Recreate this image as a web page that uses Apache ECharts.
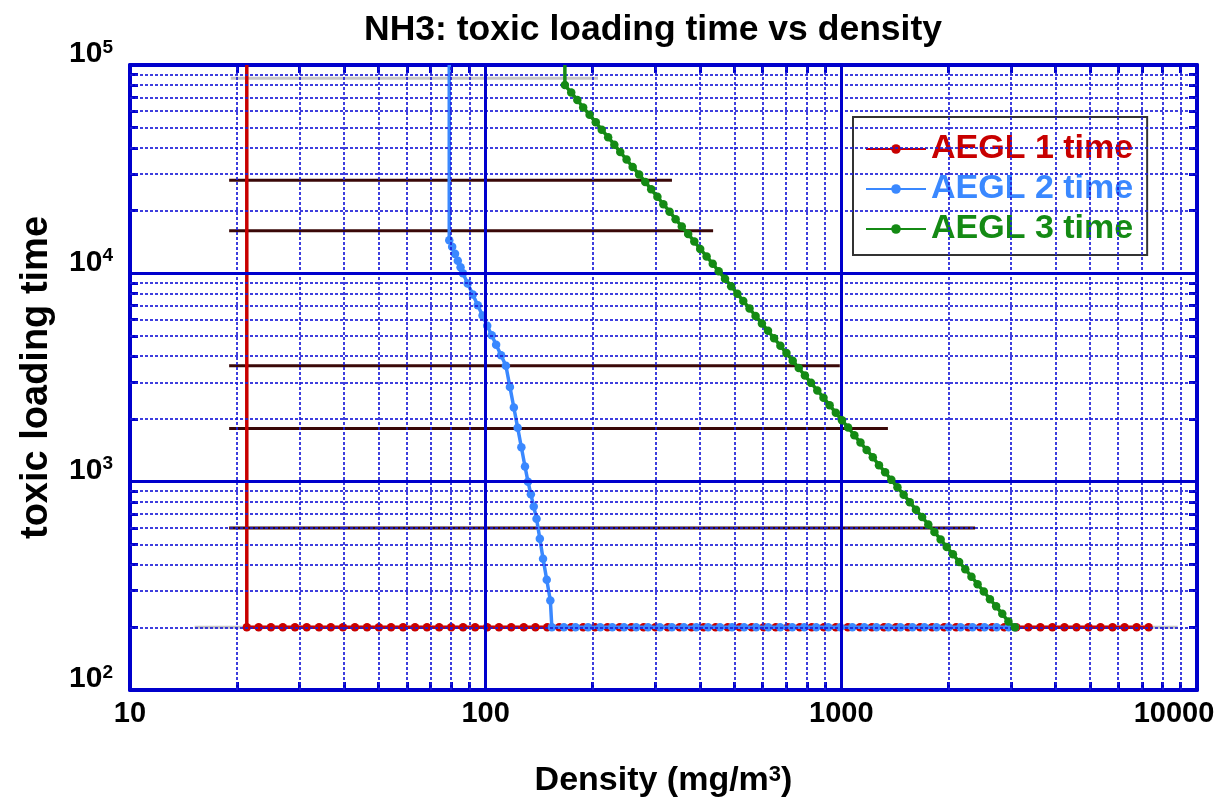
<!DOCTYPE html>
<html><head><meta charset="utf-8">
<script src="https://cdn.jsdelivr.net/npm/echarts@6/dist/echarts.min.js"></script>
<style>html,body{margin:0;padding:0;background:#fff}#c{width:1221px;height:799px}</style>
</head><body><div id="c"></div>
<script>
const FONT = '"Liberation Sans", Arial, Helvetica, sans-serif';
const TITLE = 'NH3: toxic loading time vs density';
const seriesNames = ['AEGL 1 time', 'AEGL 2 time', 'AEGL 3 time'];

// axes / tick values
const xMajorValues = [10, 100, 1000, 10000];
const xMinorValues = [20,30,40,50,60,70,80,90,200,300,400,500,600,700,800,900,2000,3000,4000,5000,6000,7000,8000,9000];
const yMajorValues = [100, 1000, 10000, 100000];
const yMinorValues = [200,300,400,500,600,700,800,900,2000,3000,4000,5000,6000,7000,8000,9000,20000,30000,40000,50000,60000,70000,80000,90000];

const FLOOR_TIME = 200;
const TOP_TIME = 100000;

// AEGL 1
const aegl1VerticalDensity = 21.3;
const aegl1FloorDensity = [21.3,23,24.9,26.9,29.1,31.4,34,36.7,39.7,42.9,46.4,50.1,54.2,58.6,63.3,68.4,74,80,86.4,93.4,101,109,118,128,138,149,161,174,188,203,220,238,257,278,300,325,351,379,410,443,479,518,560,605,654,707,764,826,893,965,1043,1128,1219,1318,1425,1540,1665,1800,1946,2103,2274,2458,2657,2872,3105,3356,3628,3922,4240,4583,4954,5355,5789,6258,6765,7313];

// AEGL 2
const aegl2VerticalDensity = 79;
const aegl2CurveDensity = [79,80.5,82,83.5,85,86.3,89,92,95,98,101,104,107,110.5,114,117,120,123,126,129,131.5,134,136.5,139,142,145,148.5,152,153.5];
const aegl2CurveTime    = [14400,13400,12400,11500,10700,10000,8930,7910,7030,6270,5610,5040,4540,4040,3600,2850,2270,1816,1463,1183,1000,870,759,664,532,427,338,269,200];
const aegl2FloorDensity = [153.5,166,179,194,210,227,245,265,286,309,334,361,391,422,456,493,533,576,623,673,728,787,850,919,993,1074,1161,1255,1356,1466,1585,1713,1852,2002,2164,2339,2528,2733,2954,3076];

// AEGL 3
const aegl3VerticalDensity = 167;
const aegl3CurveDensity = [167,174,181,188,196,204,212,221,230,239,249,259,270,281,292,304,316,329,342,356,371,386,401,418,435,452,471,490,510,530,552,574,598,622,647,674,701,730,759,790,822,856,891,927,965,1004,1045,1088,1132,1178,1226,1276,1328,1382,1438,1497,1558,1621,1687,1756,1827,1902,1979,2060,2144,2231,2322,2416,2515,2617,2724,2835,2950,3076];
const aegl3CurveTime    = [80100,73770,67940,62570,57630,53070,48880,45020,41460,38180,35170,32390,29830,27470,25300,23300,21460,19760,18200,16760,15440,14220,13100,12060,11110,10230,9420,8680,7990,7360,6780,6240,5750,5300,4880,4490,4140,3810,3510,3230,2980,2740,2530,2330,2140,1970,1820,1670,1540,1420,1310,1200,1110,1020,940,866,797,734,676,623,573,528,486,448,412,380,350,322,297,273,252,232,213,200];

// dark reference bars
const barTimes = [28000, 16000, 3600, 1800, 600];
const barStartDensity = 19;
const barEndDensity = [334, 436, 990, 1352, 2377];

// light grey guide lines
const greyTopTime = 86400;
const greyTopRange = [19.2, 207];
const greyFloorRange = [15.2, 8830];

const RED = '#c80000', BLUE = '#3a88ff', GREEN = '#148a14';
const GRID_BLUE = '#0000cc', MINOR_BLUE = '#1c1cd8', BAR = '#3a0808', GREY = '#c4c4c4';

const chart = echarts.init(document.getElementById('c'), null, {renderer: 'canvas'});

const minorStyle = {color: MINOR_BLUE, width: 2, type: [3, 2], opacity: 0.85};
const majorStyle = {color: GRID_BLUE, width: 3, type: 'solid'};
const gridLines = []
  .concat(xMinorValues.map(v => ({xAxis: v, lineStyle: minorStyle})))
  .concat(yMinorValues.map(v => ({yAxis: v, lineStyle: minorStyle})))
  .concat(xMajorValues.slice(1, -1).map(v => ({xAxis: v, lineStyle: majorStyle})))
  .concat(yMajorValues.slice(1, -1).map(v => ({yAxis: v, lineStyle: majorStyle})));

function expOf(v) { return Math.round(Math.log10(v)); }

const axisLineStyle = {show: true, onZero: false, lineStyle: {color: GRID_BLUE, width: 4}};
function tickCfg(vals) { return {show: true, inside: true, length: 8, lineStyle: {color: GRID_BLUE, width: 3}, customValues: vals}; }

const series = [];
series.push({
  name: 'grid', type: 'line', data: [[10, 100]], symbol: 'none', lineStyle: {opacity: 0}, z: 0, silent: true, animation: false,
  markLine: {silent: true, symbol: ['none', 'none'], label: {show: false}, animation: false, emphasis: {disabled: true}, data: gridLines}
});
series.push({name: 'greyTop', type: 'line', z: 1, symbol: 'none', silent: true, animation: false,
  lineStyle: {color: GREY, width: 3}, data: greyTopRange.map(c => [c, greyTopTime])});
series.push({name: 'greyFloor', type: 'line', z: 1, symbol: 'none', silent: true, animation: false,
  lineStyle: {color: GREY, width: 3}, data: greyFloorRange.map(c => [c, FLOOR_TIME])});
barTimes.forEach((t, i) => series.push({
  name: 'bar' + i, type: 'line', z: 2, symbol: 'none', silent: true, animation: false,
  lineStyle: {color: BAR, width: 3}, data: [[barStartDensity, t], [barEndDensity[i], t]]
}));
const SYM = 8.5;
series.push({
  name: seriesNames[0], type: 'line', z: 3, animation: false, symbol: 'circle', symbolSize: SYM,
  itemStyle: {color: RED}, lineStyle: {color: RED, width: 3.5},
  data: [{value: [aegl1VerticalDensity, TOP_TIME], symbol: 'none'}].concat(aegl1FloorDensity.map(c => [c, FLOOR_TIME]))
});
series.push({
  name: seriesNames[1], type: 'line', z: 4, animation: false, symbol: 'circle', symbolSize: SYM,
  itemStyle: {color: BLUE}, lineStyle: {color: BLUE, width: 3.5},
  data: [{value: [aegl2VerticalDensity, TOP_TIME], symbol: 'none'}]
    .concat(aegl2CurveDensity.map((c, i) => [c, aegl2CurveTime[i]]))
    .concat(aegl2FloorDensity.slice(1).map(c => [c, FLOOR_TIME]))
});
series.push({
  name: seriesNames[2], type: 'line', z: 5, animation: false, symbol: 'circle', symbolSize: SYM,
  itemStyle: {color: GREEN}, lineStyle: {color: GREEN, width: 3.5},
  data: [{value: [aegl3VerticalDensity, TOP_TIME], symbol: 'none'}]
    .concat(aegl3CurveDensity.map((c, i) => [c, aegl3CurveTime[i]]))
});

const option = {
  backgroundColor: '#fff',
  animation: false,
  title: {text: TITLE, left: 364, top: 12, padding: 0,
    textStyle: {fontFamily: FONT, fontWeight: 'bold', fontSize: 35.5, color: '#000'}},
  grid: {left: 130, right: 24, top: 65, bottom: 109, containLabel: false, outerBoundsMode: 'none'},
  legend: {
    data: [
      {name: seriesNames[0], textStyle: {color: RED}},
      {name: seriesNames[1], textStyle: {color: BLUE}},
      {name: seriesNames[2], textStyle: {color: GREEN}}
    ],
    orient: 'vertical', left: 853, top: 117, padding: [15, 14, 9, 12],
    itemWidth: 60, itemHeight: 12, itemGap: 6,
    backgroundColor: '#fff', borderColor: '#333', borderWidth: 2,
    selectedMode: false,
    textStyle: {fontFamily: FONT, fontWeight: 'bold', fontSize: 34, lineHeight: 34}
  },
  xAxis: [{
    type: 'log', logBase: 10, min: 10, max: 10000, position: 'bottom',
    name: '{n|Density (mg/m}{s|3}{n|)}', nameLocation: 'middle', nameGap: 74,
    nameTextStyle: {rich: {
      n: {fontFamily: FONT, fontWeight: 'bold', fontSize: 34, color: '#000'},
      s: {fontFamily: FONT, fontWeight: 'bold', fontSize: 22, color: '#000', verticalAlign: 'top', lineHeight: 34}
    }},
    axisLine: axisLineStyle, axisTick: tickCfg(xMinorValues), minorTick: {show: false},
    splitLine: {show: false},
    axisLabel: {fontFamily: FONT, fontWeight: 'bold', fontSize: 29, color: '#000', margin: 9,
      formatter: v => (expOf(v) === 4 ? '{shift|' + xMajorValues[3] + '}' : String(Math.round(v))),
      rich: {shift: {fontFamily: FONT, fontWeight: 'bold', fontSize: 29, color: '#000', padding: [0, 46, 0, 0]}}}
  }, {
    type: 'log', logBase: 10, min: 10, max: 10000, position: 'top',
    axisLine: axisLineStyle, axisTick: tickCfg(xMinorValues), axisLabel: {show: false}, splitLine: {show: false}
  }],
  yAxis: [{
    type: 'log', logBase: 10, min: 100, max: 100000, position: 'left',
    name: 'toxic loading time', nameLocation: 'middle', nameGap: 74, nameRotate: 90,
    nameTextStyle: {fontFamily: FONT, fontWeight: 'bold', fontSize: 38, color: '#000'},
    axisLine: axisLineStyle, axisTick: tickCfg(yMinorValues), splitLine: {show: false},
    axisLabel: {margin: 17, padding: [0, 0, 22, 0],
      formatter: v => '{b|10}{s|' + expOf(v) + '}',
      rich: {
        b: {fontFamily: FONT, fontWeight: 'bold', fontSize: 30, color: '#000', lineHeight: 32},
        s: {fontFamily: FONT, fontWeight: 'bold', fontSize: 19, color: '#000', verticalAlign: 'top', lineHeight: 32}
      }}
  }, {
    type: 'log', logBase: 10, min: 100, max: 100000, position: 'right',
    axisLine: axisLineStyle, axisTick: tickCfg(yMinorValues), axisLabel: {show: false}, splitLine: {show: false}
  }],
  series: series
};
chart.setOption(option);
</script></body></html>
